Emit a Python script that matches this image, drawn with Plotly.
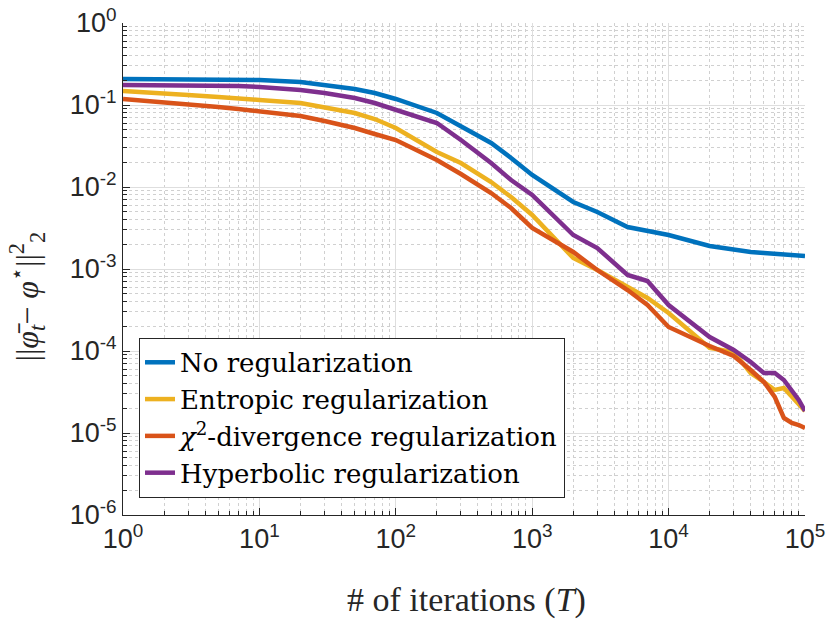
import plotly.graph_objects as go

iterations = [1, 2, 3, 5, 7, 10, 20, 30, 50, 70, 100, 200, 300, 500, 700,
              1000, 2000, 3000, 5000, 7000, 10000, 20000, 30000, 40000,
              50000, 60000, 70000, 80000, 90000, 100000]

no_reg = [0.2075, 0.2075, 0.2075, 0.2075, 0.2075, 0.2018, 0.1908, 0.1753,
          0.1567, 0.1401, 0.1184, 0.0799, 0.0554, 0.0344, 0.02258, 0.01401,
          0.006566, 0.004956, 0.003253, 0.002907, 0.002598, 0.001908,
          0.001705, 0.001612, 0.001567, 0.001524, 0.001482, 0.001482,
          0.001441, 0.001441]

entropic = [0.1482, 0.1401, 0.1324, 0.1252, 0.1184, 0.1151, 0.1058, 0.0945,
            0.0799, 0.0675, 0.0524, 0.02672, 0.01963, 0.0115, 0.00755,
            0.00456, 0.001362, 0.000972, 0.000603, 0.000443, 0.0002906,
            0.0001088, 9.72e-5, 5.39e-5, 4.19e-5, 3.35e-5, 3.54e-5,
            2.75e-5, 2.26e-5, 1.854e-5]

chi2 = [0.1184, 0.1088, 0.1028, 0.0945, 0.0894, 0.0845, 0.0734, 0.0638,
        0.0524, 0.0443, 0.0374, 0.02135, 0.0144, 0.00845, 0.00554,
        0.003162, 0.001612, 0.000972, 0.000554, 0.000364, 0.0001963,
        0.0001151, 8.69e-5, 5.87e-5, 4.19e-5, 2.75e-5, 1.524e-5,
        1.324e-5, 1.252e-5, 1.151e-5]

hyperbolic = [0.1753, 0.1753, 0.1705, 0.1705, 0.1705, 0.1658, 0.1524, 0.1401,
              0.1217, 0.1058, 0.0869, 0.0603, 0.0374, 0.01963, 0.01217,
              0.00799, 0.002598, 0.001804, 0.000845, 0.000714, 0.000364,
              0.0001482, 0.0001028, 7.34e-5, 5.39e-5, 5.39e-5, 4.43e-5,
              3.35e-5, 2.53e-5, 1.854e-5]

series_names = ["No regularization", "Entropic regularization",
                "<i>χ</i><sup>2</sup>-divergence regularization",
                "Hyperbolic regularization"]
series_colors = ["#0072BD", "#EDB120", "#D95319", "#7E2F8E"]

x_tick_vals = [1, 10, 100, 1000, 10000, 100000]
x_tick_text = ["10<sup>0</sup>", "10<sup>1</sup>", "10<sup>2</sup>",
               "10<sup>3</sup>", "10<sup>4</sup>", "10<sup>5</sup>"]
y_tick_vals = [1e-6, 1e-5, 1e-4, 1e-3, 1e-2, 1e-1, 1]
y_tick_text = ["10<sup>-6</sup>", "10<sup>-5</sup>", "10<sup>-4</sup>",
               "10<sup>-3</sup>", "10<sup>-2</sup>", "10<sup>-1</sup>",
               "10<sup>0</sup>"]

x_minor = [k * 10 ** e for e in range(0, 5) for k in range(2, 10)]
y_minor = [k * 10.0 ** e for e in range(-6, 0) for k in range(2, 10)]

SERIF = "Liberation Serif"
SANS = "Liberation Sans"

fig = go.Figure()
for name, vals, col in zip(series_names, [no_reg, entropic, chi2, hyperbolic],
                           series_colors):
    fig.add_trace(go.Scatter(x=iterations, y=vals, mode="lines", name=name,
                             line=dict(color=col, width=4.5)))

axis_color = "#262626"
tick_font = dict(family=SANS, size=27, color=axis_color)
minor_style = dict(ticks="inside", ticklen=4, tickcolor=axis_color,
                   showgrid=True, gridcolor="#d0d0d0", griddash="dot",
                   gridwidth=1)

fig.update_xaxes(type="log", range=[0, 5], tickmode="array",
                 tickvals=x_tick_vals, ticktext=x_tick_text,
                 showline=True, linecolor=axis_color, linewidth=1,
                 ticks="inside", ticklen=7, tickcolor=axis_color,
                 showgrid=True, gridcolor="#dedede", zeroline=False,
                 tickfont=tick_font,
                 minor=dict(tickmode="array", tickvals=x_minor, **minor_style))
fig.update_yaxes(type="log", range=[-6, 0], tickmode="array",
                 tickvals=y_tick_vals, ticktext=y_tick_text,
                 showline=True, linecolor=axis_color, linewidth=1,
                 ticks="inside", ticklen=7, tickcolor=axis_color,
                 showgrid=True, gridcolor="#dedede", zeroline=False,
                 tickfont=tick_font,
                 minor=dict(tickmode="array", tickvals=y_minor, **minor_style))

fig.update_layout(
    width=830, height=623,
    margin=dict(l=123, r=25, t=23, b=108, autoexpand=False),
    paper_bgcolor="white", plot_bgcolor="white",
    showlegend=True,
    legend=dict(x=0.0235, y=0.36, xanchor="left", yanchor="top",
                bgcolor="white", bordercolor=axis_color, borderwidth=1,
                font=dict(family="DejaVu Serif", size=26, color="black")),
    annotations=[
        dict(text="# of iterations (<i>T</i>)", xref="paper", yref="paper",
             x=0.3255, y=-0.173, xanchor="left", yanchor="middle",
             showarrow=False,
             font=dict(family=SERIF, size=34, color=axis_color)),
        dict(text="||<i>φ̄</i><sub><i>t</i></sub>− <i>φ</i><sup>⋆</sup>||<sup>2</sup><sub>2</sub>",
             xref="paper", yref="paper", x=-0.176, y=0.309,
             xanchor="left", yanchor="bottom", textangle=-90,
             showarrow=False,
             font=dict(family=SERIF, size=32, color=axis_color)),
    ],
)

fig.write_html("out.html", config={"displayModeBar": False},
               post_script="document.body.style.margin='0';")
